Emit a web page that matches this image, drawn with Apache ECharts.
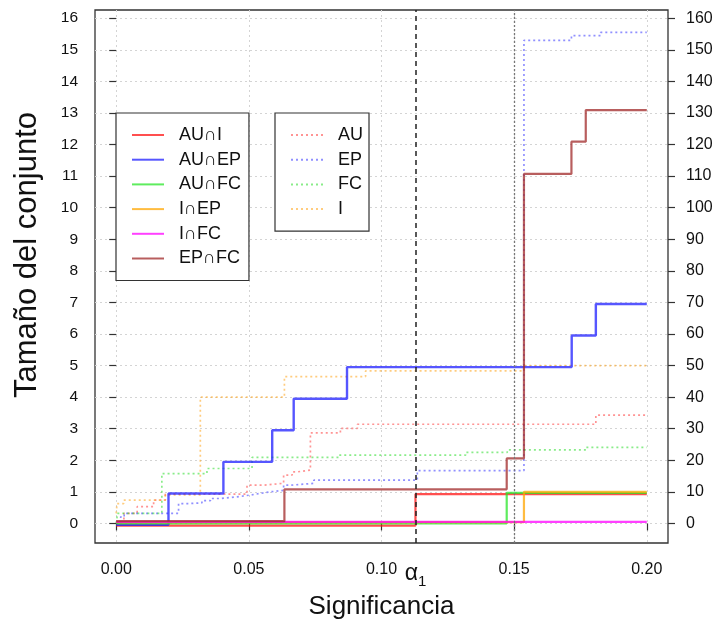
<!DOCTYPE html>
<html>
<head>
<meta charset="utf-8">
<script src="https://cdn.jsdelivr.net/npm/echarts@6/dist/echarts.min.js"></script>
<style>html,body{margin:0;padding:0;background:#fff;}#c{width:720px;height:625px;}</style>
</head>
<body>
<div id="c"></div>
<script>
// ---- data ----
const alpha1 = 0.1128;
const alpha2 = 0.15;
const xTicks = [0, 0.05, 0.10, 0.15, 0.20];
const yLeftTicks = [0,1,2,3,4,5,6,7,8,9,10,11,12,13,14,15,16];
const yRightTicks = [0,10,20,30,40,50,60,70,80,90,100,110,120,130,140,150,160];

// solid lines: intersection sizes (left axis)
const auI_x  = [0, 0.1128, 0.2];
const auI_y  = [-0.07, 0.93, 0.93];
const auEP_x = [0, 0.0197, 0.0404, 0.0588, 0.0669, 0.0870, 0.1717, 0.1808, 0.2];
const auEP_y = [-0.04, 0.95, 1.95, 2.95, 3.95, 4.95, 5.95, 6.95, 6.95];
const auFC_x = [0, 0.1472, 0.2];
const auFC_y = [0.0, 0.97, 0.97];
const iEP_x  = [0, 0.1537, 0.2];
const iEP_y  = [0.04, 1.0, 1.0];
const iFC_x  = [0, 0.2];
const iFC_y  = [0.05, 0.05];
const epFC_x = [0, 0.0634, 0.1472, 0.1537, 0.1716, 0.1770, 0.2];
const epFC_y = [0.07, 1.08, 2.06, 11.07, 12.09, 13.09, 13.09];

// dotted lines: set sizes (right axis)
const au_x = [0, 0.0029, 0.0079, 0.0141, 0.0185, 0.0493, 0.0556, 0.0631, 0.0663, 0.0680, 0.0732, 0.0845, 0.0909, 0.1808, 0.2];
const au_y = [0.5, 3.2, 5.3, 7.4, 9.3, 12.1, 12.7, 15.3, 16.3, 16.9, 28.7, 30.1, 31.4, 34.3, 34.3];
const ep_x = [0, 0.0017, 0.0030, 0.0235, 0.0279, 0.0323, 0.0355, 0.0392, 0.0455, 0.0506, 0.0543, 0.0581, 0.0631, 0.0657, 0.0745, 0.1135, 0.1537, 0.1716, 0.1826, 0.2];
const ep_y = [0, 2.1, 3.2, 6.3, 6.5, 7.2, 7.9, 8.4, 9.0, 9.5, 10.0, 10.5, 12.1, 12.7, 13.7, 16.7, 153, 154.5, 155.5, 155.5];
const fc_x = [0, 0.0005, 0.0172, 0.0342, 0.0512, 0.0839, 0.1317, 0.1474, 0.1772, 0.2];
const fc_y = [0, 3.2, 15.8, 17.4, 20.9, 21.6, 22.5, 23.3, 24.1, 24.1];
const i_x  = [0, 0.0003, 0.0028, 0.0185, 0.0317, 0.0634, 0.0940, 0.1537, 0.2];
const i_y  = [3.2, 6.3, 7.4, 9.0, 40, 46.5, 48.3, 50, 50];

const solidNames = ['AU∩I', 'AU∩EP', 'AU∩FC', 'I∩EP', 'I∩FC', 'EP∩FC'];
const dottedNames = ['AU', 'EP', 'FC', 'I'];

// ---- chart ----
const FONT = '"Liberation Sans", Arial, Helvetica, sans-serif';
const zip = (xs, ys) => xs.map((x, i) => [x, ys[i]]);

function solid(name, xs, ys, color, w) {
  return { name, type: 'line', step: 'end', symbol: 'none', yAxisIndex: 0,
    data: zip(xs, ys), lineStyle: { color, width: w || 2.2 }, itemStyle: { color }, z: 3 };
}
function dotted(name, xs, ys, color) {
  return { name, type: 'line', step: 'end', symbol: 'none', yAxisIndex: 1,
    data: zip(xs, ys), lineStyle: { color, width: 1.7, type: [2, 3] }, itemStyle: { color }, z: 2 };
}

const series = [
  dotted('AU', au_x, au_y, 'rgba(255,60,60,0.55)'),
  dotted('EP', ep_x, ep_y, 'rgba(70,70,255,0.6)'),
  dotted('FC', fc_x, fc_y, 'rgba(40,220,40,0.55)'),
  dotted('I', i_x, i_y, 'rgba(255,170,40,0.6)'),
  solid('AU∩I', auI_x, auI_y, 'rgba(255,20,20,0.75)'),
  solid('AU∩EP', auEP_x, auEP_y, 'rgba(30,30,255,0.75)', 2.4),
  solid('AU∩FC', auFC_x, auFC_y, 'rgba(40,230,40,0.75)'),
  solid('I∩EP', iEP_x, iEP_y, 'rgba(255,165,0,0.75)'),
  solid('I∩FC', iFC_x, iFC_y, 'rgba(255,0,255,0.75)'),
  solid('EP∩FC', epFC_x, epFC_y, 'rgba(160,40,40,0.75)')
];
series[4].markLine = {
  silent: true, symbol: 'none', precision: 6, label: { show: false },
  data: [
    { xAxis: alpha1, lineStyle: { color: '#222', width: 1.5, type: [5, 4] } },
    { xAxis: alpha2, lineStyle: { color: '#777', width: 1.3, type: [2, 2] } }
  ]
};

const legendBase = {
  orient: 'vertical', top: 113, itemWidth: 32, itemHeight: 14, itemGap: 6.7,
  borderColor: '#333', borderWidth: 1.2, borderRadius: 0, backgroundColor: '#fff',
  selectedMode: false,
  itemStyle: { opacity: 0 },
  textStyle: { fontFamily: FONT, fontSize: 18, lineHeight: 14, color: '#111', padding: [0, 0, 0, 10] }
};

const chart = echarts.init(document.getElementById('c'), null, { renderer: 'canvas' });
chart.setOption({
  animation: false,
  backgroundColor: '#fff',
  textStyle: { fontFamily: FONT },
  grid: { left: 95, right: 52, top: 10, bottom: 82, show: true, borderColor: '#333', borderWidth: 1.3 },
  xAxis: {
    type: 'value', min: -0.008, max: 0.208,
    axisLine: { show: false },
    axisTick: { show: true, length: 7, customValues: xTicks, lineStyle: { color: '#333', width: 1.2 } },
    axisLabel: {
      customValues: [0, 0.05, 0.10, alpha1, 0.15, 0.20], margin: 19,
      fontFamily: FONT, fontSize: 16, color: '#111',
      formatter: v => Math.abs(v - alpha1) < 1e-6 ? '{a|α}{s|1}' : v.toFixed(2),
      rich: { a: { fontSize: 23, fontFamily: FONT, color: '#111', padding: [0, 0, 4, 0] },
              s: { fontSize: 15, fontFamily: FONT, color: '#111', padding: [12, 0, 0, 0] } }
    },
    splitLine: { show: true, lineStyle: { color: '#d4d4d4', width: 1, type: [2, 3] } },
    name: 'Significancia', nameLocation: 'middle', nameGap: 51,
    nameTextStyle: { fontFamily: FONT, fontSize: 26, color: '#111' }
  },
  yAxis: [
    {
      type: 'value', min: -0.62, max: 16.26, position: 'left',
      axisLine: { show: false },
      axisTick: { show: true, length: 7, customValues: yLeftTicks, lineStyle: { color: '#333', width: 1.2 } },
      axisLabel: { customValues: yLeftTicks, margin: 17, fontFamily: FONT, fontSize: 15.5, color: '#111' },
      splitLine: { show: true, lineStyle: { color: '#d4d4d4', width: 1, type: [2, 3] } }
    },
    {
      type: 'value', min: -6.2, max: 162.6, position: 'right',
      axisLine: { show: false },
      axisTick: { show: true, length: 7, customValues: yRightTicks, lineStyle: { color: '#333', width: 1.2 } },
      axisLabel: { customValues: yRightTicks, margin: 18, fontFamily: FONT, fontSize: 16, color: '#111' },
      splitLine: { show: false }
    }
  ],
  legend: [
    Object.assign({}, legendBase, { left: 116, data: solidNames, padding: [13, 8, 13, 15] }),
    Object.assign({}, legendBase, { left: 275, data: dottedNames, padding: [13, 6, 13, 15] })
  ],
  graphic: [{
    type: 'text', silent: true, x: 27, y: 255, rotation: Math.PI / 2,
    style: { text: 'Tamaño del conjunto', fontFamily: FONT, fontSize: 31, fill: '#111',
             align: 'center', verticalAlign: 'middle', textAlign: 'center', textVerticalAlign: 'middle' }
  }],
  series
});
</script>
</body>
</html>
